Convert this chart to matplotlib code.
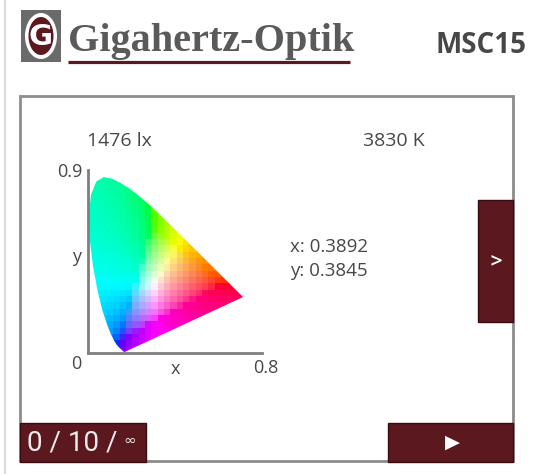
import numpy as np
import matplotlib
matplotlib.use("Agg")
import matplotlib.pyplot as plt
from matplotlib.patches import Rectangle, Ellipse, Polygon

# CIE 1931 spectral locus (x, y), 380 nm .. 700 nm
locus_x = [0.1741, 0.1733, 0.1714, 0.1689, 0.1644, 0.1566, 0.1440, 0.1355, 0.1241,
           0.1096, 0.0913, 0.0687, 0.0454, 0.0235, 0.0082, 0.0039, 0.0139, 0.0389,
           0.0743, 0.1142, 0.1547, 0.1929, 0.2296, 0.2658, 0.3016, 0.3373, 0.3731,
           0.4087, 0.4441, 0.4788, 0.5125, 0.5448, 0.5752, 0.6029, 0.6270, 0.6482,
           0.6658, 0.6915, 0.7079, 0.7190, 0.7260, 0.7300, 0.7334, 0.7347]
locus_y = [0.0050, 0.0048, 0.0051, 0.0069, 0.0109, 0.0177, 0.0297, 0.0399, 0.0578,
           0.0868, 0.1327, 0.2007, 0.2950, 0.4127, 0.5384, 0.6548, 0.7502, 0.8120,
           0.8338, 0.8262, 0.8059, 0.7816, 0.7543, 0.7243, 0.6923, 0.6589, 0.6245,
           0.5896, 0.5547, 0.5202, 0.4866, 0.4544, 0.4242, 0.3965, 0.3725, 0.3514,
           0.3340, 0.3083, 0.2920, 0.2809, 0.2740, 0.2700, 0.2666, 0.2653]

illuminance = "1476 lx"
cct = "3830 K"
chroma_x = 0.3892
chroma_y = 0.3845
counter = "0 / 10 /"
brand = "Gigahertz-Optik"
model = "MSC15"

W, H = 536, 474
dark_red = "#5b181e"
grey_txt = "#474747"
ui_font = ["Open Sans", "DejaVu Sans"]

fig = plt.figure(figsize=(W / 100, H / 100), dpi=100)
fig.patch.set_facecolor("white")

# overlay in pixel coordinates for the screen furniture
bg = fig.add_axes([0, 0, 1, 1])
bg.set_xlim(0, W)
bg.set_ylim(H, 0)
bg.axis("off")

bg.plot([5, 5], [0, H], color="#dcdcdc", lw=1.6)

# logo
bg.add_patch(Rectangle((21, 10), 40, 52, fc="#6a6a6a", ec="none"))
bg.add_patch(Ellipse((41, 36), 32, 46, fc="white", ec="none"))
bg.add_patch(Ellipse((41, 36), 25, 38, fc=dark_red, ec="none"))
bg.text(41, 37, "G", color="white", fontsize=21, fontweight="bold",
        family="DejaVu Sans", ha="center", va="center")
bg.text(68, 51, brand, color="#5a5a5a", fontsize=29, fontweight="bold",
        family="Liberation Serif", ha="left", va="baseline")
bg.plot([68, 350], [62, 62], color=dark_red, lw=2.3, solid_capstyle="butt")
bg.text(435, 53, model, color=grey_txt, fontsize=20, fontweight="bold",
        family=ui_font, ha="left", va="baseline")

# panel
bg.add_patch(Rectangle((20, 96), 493, 365, fc="none", ec="#8c8c8c", lw=2))

bg.text(87, 141, illuminance, color=grey_txt, fontsize=14, family=ui_font,
        ha="left", va="center")
bg.text(363, 141, cct, color=grey_txt, fontsize=14, family=ui_font,
        ha="left", va="center")
bg.text(290, 247, "x: %.4f" % chroma_x, color=grey_txt, fontsize=13.5,
        family=ui_font, ha="left", va="center")
bg.text(290, 271, "y: %.4f" % chroma_y, color=grey_txt, fontsize=13.5,
        family=ui_font, ha="left", va="center")

bg.text(82, 172, "0.9", color=grey_txt, fontsize=13, family=ui_font, ha="right", va="center")
bg.text(77, 257, "y", color=grey_txt, fontsize=13, family=ui_font, ha="center", va="center")
bg.text(76, 364, "0", color=grey_txt, fontsize=13, family=ui_font, ha="center", va="center")
bg.text(175, 369, "x", color=grey_txt, fontsize=13, family=ui_font, ha="center", va="center")
bg.text(266, 368, "0.8", color=grey_txt, fontsize=13, family=ui_font, ha="center", va="center")

# buttons
for (bx, by, bw, bh) in [(478, 200, 35, 122), (20, 423, 126, 39), (388, 423, 125, 39)]:
    bg.add_patch(Rectangle((bx, by), bw, bh, fc=dark_red, ec="#3a0c10", lw=1))
bg.text(496, 262, ">", color="white", fontsize=17,
        family=["Roboto", "DejaVu Sans"], ha="center", va="center")
bg.text(27, 443, counter, color="#ececec", fontsize=20,
        family=["Roboto", "DejaVu Sans"], ha="left", va="center")
bg.text(130, 440, "\u221e", color="#ececec", fontsize=11,
        family=["DejaVu Sans"], ha="center", va="center")
bg.text(452, 442, "\u25b6", color="white", fontsize=14, family="DejaVu Sans",
        ha="center", va="center")

# chromaticity diagram
px_per_unit = 211.0
ax = fig.add_axes([88 / W, (H - 353) / H, 174 / W, 183 / H])
ax.patch.set_alpha(0)
for s in ["top", "right"]:
    ax.spines[s].set_visible(False)
for s in ["left", "bottom"]:
    ax.spines[s].set_color("#7f7f7f")
    ax.spines[s].set_linewidth(2)
ax.set_xticks([])
ax.set_yticks([])

step = 0.03
gx = np.arange(0, 0.78, step) + step / 2
gy = np.arange(0, 0.87, step) + step / 2
xx, yy = np.meshgrid(gx, gy)
X = xx / yy
Y = np.ones_like(xx)
Z = (1 - xx - yy) / yy
M = np.array([[3.2406, -1.5372, -0.4986],
              [-0.9689, 1.8758, 0.0415],
              [0.0557, -0.2040, 1.0570]])
rgb = np.einsum("ij,jkl->kli", M, np.stack([X, Y, Z]))
# bring out-of-gamut colours inside by adding white, then normalise
rgb = rgb - np.minimum(rgb.min(axis=2, keepdims=True), 0)
rgb = rgb / rgb.max(axis=2, keepdims=True)
rgb = np.where(rgb <= 0.0031308, 12.92 * rgb, 1.055 * rgb ** (1 / 2.4) - 0.055)
rgb = np.clip(rgb, 0, 1)

im = ax.imshow(rgb, origin="lower", interpolation="nearest",
               extent=(0, gx[-1] + step / 2, 0, gy[-1] + step / 2), aspect="auto")
ax.set_xlim(0, 174 / px_per_unit)
ax.set_ylim(0, 183 / px_per_unit)
clip = Polygon(np.column_stack([locus_x, locus_y]), closed=True,
               fc="none", ec="none", transform=ax.transData)
ax.add_patch(clip)
im.set_clip_path(clip)

fig.savefig("out.png", dpi=100)
